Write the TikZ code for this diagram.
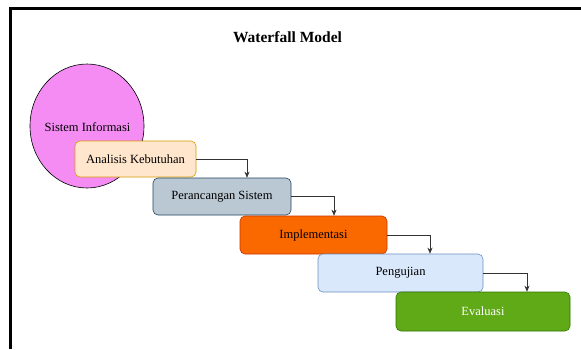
\documentclass[tikz,border=0pt]{standalone}
\usepackage{fontspec}
\setmainfont{Liberation Serif}
\usetikzlibrary{arrows.meta,shapes.geometric}
\definecolor{anaF}{HTML}{FFE6CC}\definecolor{anaD}{HTML}{D79B00}
\definecolor{perF}{HTML}{BAC8D3}\definecolor{perD}{HTML}{23445D}
\definecolor{impF}{HTML}{FA6800}\definecolor{impD}{HTML}{C73500}
\definecolor{pngF}{HTML}{DAE8FC}\definecolor{pngD}{HTML}{6C8EBF}
\definecolor{evaF}{HTML}{60A917}\definecolor{evaD}{HTML}{2D7600}
\definecolor{sisF}{HTML}{F48CF4}
\tikzset{
  phase/.style={draw, rounded corners=5pt, line width=0.6pt, minimum height=37pt, inner sep=0pt, font=\fontsize{12.5}{14}\selectfont},
  flow/.style={draw=black!80, line width=0.6pt, -{Stealth[length=6pt,width=5pt]}, rounded corners=0pt}
}
\begin{document}
\begin{tikzpicture}[x=1pt,y=-1pt]
\useasboundingbox (0,0) rectangle (581,349);
\fill[white] (0,0) rectangle (581,349);
\draw[line width=3pt] (10,349) -- (10,8) -- (581,8);
\node[font=\bfseries\fontsize{15.5}{17}\selectfont] (title) at (287.5,37) {Waterfall Model};
\node[draw, fill=sisF, ellipse, minimum width=114pt, minimum height=124pt, inner sep=0pt, line width=0.6pt] (sis) at (87,126) {};
\node[font=\fontsize{12.5}{14}\selectfont] (sistxt) at (87.5,127) {Sistem Informasi};
\node[phase, fill=anaF, draw=anaD, minimum width=121pt, minimum height=36pt] (ana) at (135.5,159) {Analisis Kebutuhan};
\node[phase, fill=perF, draw=perD, minimum width=138pt] (per) at (222,196.5) {Perancangan Sistem};
\node[phase, fill=impF, draw=impD, minimum width=147pt, minimum height=38pt] (imp) at (313.5,235) {Implementasi};
\node[phase, fill=pngF, draw=pngD, minimum width=165pt, minimum height=38pt] (png) at (400.5,273) {Pengujian};
\node[phase, fill=evaF, draw=evaD, minimum width=174pt, minimum height=39pt, text=white] (eva) at (483,311.5) {Evaluasi};
\draw[flow] (ana.east) -| (per.north -| 247,0);
\draw[flow] (per.east) -| (imp.north -| 334,0);
\draw[flow] (imp.east) -| (png.north -| 430,0);
\draw[flow] (png.east) -| (eva.north -| 527,0);
\end{tikzpicture}
\end{document}
